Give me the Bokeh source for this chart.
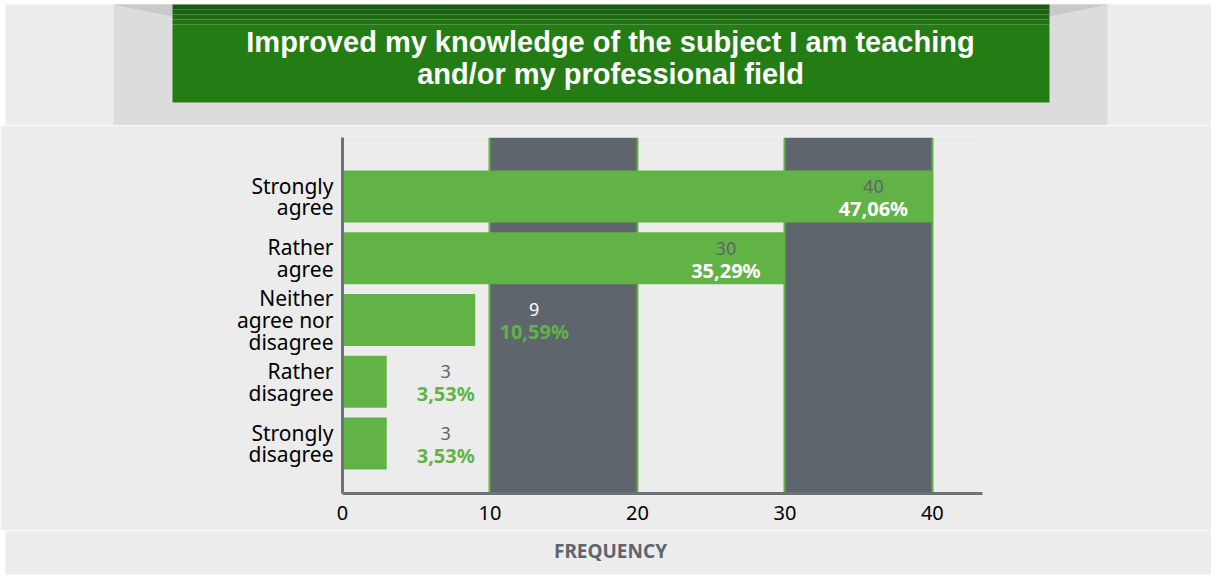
from bokeh.plotting import figure
from bokeh.layouts import column
from bokeh.models import Range1d, FixedTicker, ColumnDataSource
from bokeh.embed import file_html
from bokeh.resources import INLINE
from bokeh.core.properties import value

# ---- data ----
categories = ["Strongly\nagree", "Rather\nagree", "Neither\nagree nor\ndisagree",
              "Rather\ndisagree", "Strongly\ndisagree"]
counts = [40, 30, 9, 3, 3]
percents = ["47,06%", "35,29%", "10,59%", "3,53%", "3,53%"]
x_ticks = [0, 10, 20, 30, 40]
title_text = "Improved my knowledge of the subject I am teaching\nand/or my professional field"
x_title = "FREQUENCY"

# ---- styles ----
BG = "#ececec"
PANEL = "#dcdcdc"
GREEN = "#62b345"
DARK = "#5f656c"
AXIS = "#6d7277"
FONT = "Noto Sans"
W = 1211


def deco_figure(h):
    f = figure(width=W, height=h, output_backend="svg", toolbar_location=None,
               x_range=Range1d(0, W), y_range=Range1d(h, 0),
               min_border=0, min_border_left=0, min_border_right=0,
               min_border_top=0, min_border_bottom=0, frame_align=False)
    f.axis.visible = False
    f.grid.visible = False
    f.outline_line_color = None
    f.background_fill_color = "white"
    f.border_fill_color = "white"
    return f


# ---- header ----
H1 = 125
head = deco_figure(H1)
head.quad(left=5, right=W, top=4, bottom=H1, fill_color=BG, line_color=None)
head.quad(left=113, right=1107, top=4, bottom=H1, fill_color=PANEL, line_color=None)
head.patch([113, 172, 172], [4, 4, 16], fill_color="#bdbdbd", fill_alpha=0.6, line_color=None)
head.patch([1049, 1107, 1049], [4, 4, 16], fill_color="#bdbdbd", fill_alpha=0.6, line_color=None)
strips = [(4, 9, "#1a5a0f"), (9, 14, "#1c6110"), (14, 19, "#1f6b11"),
          (19, 24, "#227413"), (24, 102, "#247c14")]
for t, b, col in strips:
    head.quad(left=172, right=1049, top=t, bottom=b, fill_color=col, line_color=None)
head.text(x=[610], y=[57], text=[title_text], text_align="center", text_baseline="middle",
          text_color="white", text_font=value("Liberation Sans"),
          text_font_style="bold", text_font_size="29px", text_line_height=1.0)

# ---- main chart ----
n = len(categories)
ypos = [n - 1 - i for i in range(n)]

H2 = 405
p = figure(width=W, height=H2, output_backend="svg", toolbar_location=None,
           x_range=Range1d(0, 43.4), y_range=Range1d(-0.81, 4.955),
           min_border_left=342, min_border_right=W - 982, min_border_top=12,
           min_border_bottom=H2 - 368, frame_align=False)
p.background_fill_color = BG
p.border_fill_color = BG
p.outline_line_color = None

p.ygrid.grid_line_color = None
p.xgrid.ticker = FixedTicker(ticks=x_ticks[1:])
p.xgrid.grid_line_color = GREEN
p.xgrid.grid_line_width = 2
p.xgrid.band_fill_color = DARK
p.xgrid.band_fill_alpha = 1.0

src = ColumnDataSource(dict(y=ypos, right=counts))
p.hbar(y="y", left=0, right="right", height=0.84, source=src,
       fill_color=GREEN, line_color=None)

lx, cnt_col, pct_col = [], [], []
for c in counts:
    inside = c >= 20
    x = c - 4 if inside else c + 4
    lx.append(x)
    on_band = int(x // 10) % 2 == 1
    if inside:
        cnt_col.append(DARK)
        pct_col.append("white")
    else:
        cnt_col.append("white" if on_band else DARK)
        pct_col.append(GREEN)
lsrc = ColumnDataSource(dict(x=lx, y=ypos, cnt=[str(c) for c in counts], pct=percents,
                             cc=cnt_col, pc=pct_col))
p.text(x="x", y="y", text="cnt", source=lsrc, text_color="cc", text_align="center",
       text_baseline="middle", y_offset=-10, text_font=value(FONT), text_font_size="18px")
p.text(x="x", y="y", text="pct", source=lsrc, text_color="pc", text_align="center",
       text_baseline="middle", y_offset=12, text_font=value(FONT), text_font_size="20px",
       text_font_style="bold")

p.xaxis.ticker = FixedTicker(ticks=x_ticks)
p.xaxis.axis_line_color = AXIS
p.xaxis.axis_line_width = 3
p.xaxis.major_tick_line_color = None
p.xaxis.minor_tick_line_color = None
p.xaxis.major_label_text_font = FONT
p.xaxis.major_label_text_font_size = "20px"
p.xaxis.major_label_text_color = "black"
p.xaxis.major_label_standoff = 6

p.yaxis.ticker = FixedTicker(ticks=ypos)
p.yaxis.major_label_overrides = {y: lab for y, lab in zip(ypos, categories)}
p.yaxis.axis_line_color = AXIS
p.yaxis.axis_line_width = 3
p.yaxis.major_tick_line_color = None
p.yaxis.minor_tick_line_color = None
p.yaxis.major_label_text_font = FONT
p.yaxis.major_label_text_font_size = "21px"
p.yaxis.major_label_text_color = "black"
p.yaxis.major_label_standoff = 3
p.yaxis.major_label_text_line_height = 0.78

# ---- footer with the axis title ----
H3 = 577 - H1 - H2
foot = deco_figure(H3)
foot.quad(left=5, right=W, top=0, bottom=H3 - 3, fill_color=BG, line_color=None)
foot.text(x=[610], y=[20], text=[x_title], text_align="center", text_baseline="middle",
          text_color=DARK, text_font=value(FONT), text_font_style="bold",
          text_font_size="19px")

layout = column(head, p, foot, spacing=0)
open("out.html", "w").write(file_html(layout, INLINE))
